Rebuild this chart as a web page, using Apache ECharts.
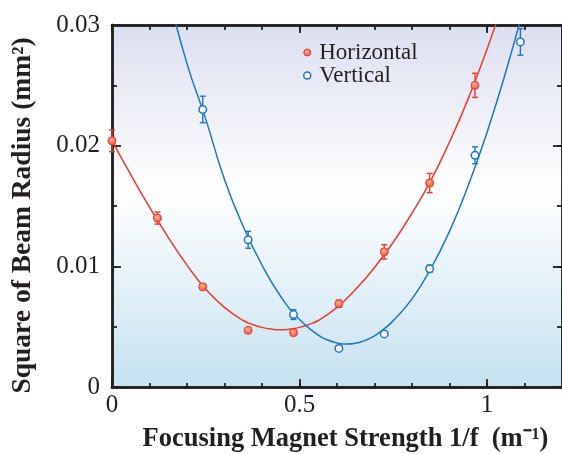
<!DOCTYPE html>
<html>
<head>
<meta charset="utf-8">
<script src="https://cdn.jsdelivr.net/npm/echarts@6/dist/echarts.min.js"></script>
<style>
html,body{margin:0;padding:0;background:#fff;}
#c{width:562px;height:454px;}
</style>
</head>
<body>
<div id="c"></div>
<script>
// ---- data ----
const xTicksMajor = [0, 0.5, 1];
const yTicksMajor = [0, 0.01, 0.02, 0.03];

const hX = [0, 0.121, 0.242, 0.363, 0.484, 0.605, 0.726, 0.847, 0.968];
const hY = [0.0204, 0.0140, 0.0083, 0.0047, 0.0045, 0.0069, 0.0112, 0.0169, 0.0250];
const hErr = [0.0009, 0.0005, 0.0002, 0.0001, 0.0001, 0.0003, 0.0006, 0.0008, 0.0010];

const vX = [0.242, 0.363, 0.484, 0.605, 0.726, 0.847, 0.968, 1.089];
const vY = [0.0230, 0.0122, 0.0060, 0.0032, 0.0044, 0.0098, 0.0192, 0.0286];
const vErr = [0.0011, 0.0007, 0.0004, 0.0001, 0.0001, 0.0003, 0.0007, 0.0011];

// fitted curves
const hFitX = [0, 0.05, 0.10, 0.15, 0.20, 0.25, 0.30, 0.35, 0.375, 0.40, 0.425, 0.45, 0.475, 0.50, 0.525, 0.55, 0.60, 0.65, 0.70, 0.75, 0.80, 0.85, 0.90, 0.95, 1.00, 1.05];
const hFitY = [0.0204, 0.0176, 0.0149, 0.0124, 0.0101, 0.0081, 0.0066, 0.00551, 0.00518, 0.00494, 0.0048, 0.00475, 0.0048, 0.00494, 0.00518, 0.00551, 0.0066, 0.0081, 0.0099, 0.0120, 0.0144, 0.0171, 0.0203, 0.0239, 0.0280, 0.0325];

const vFitX = [0.15, 0.20, 0.25, 0.30, 0.35, 0.40, 0.45, 0.50, 0.55, 0.575, 0.60, 0.625, 0.65, 0.675, 0.70, 0.725, 0.75, 0.80, 0.85, 0.90, 0.95, 1.00, 1.05, 1.10];
const vFitY = [0.0326, 0.0268, 0.0222, 0.0172, 0.0133, 0.0101, 0.0075, 0.0056, 0.0043, 0.00389, 0.00365, 0.00356, 0.00363, 0.00386, 0.00424, 0.0048, 0.0055, 0.0073, 0.0098, 0.0129, 0.0167, 0.0211, 0.0261, 0.0317];

const seriesNames = ['Horizontal', 'Vertical'];
const xTitle = 'Focusing Magnet Strength 1/f  (m\u207B\u00B9)';
const yTitle = 'Square of Beam Radius (mm\u00B2)';

// ---- styles ----
const RED = '#ec3b2e';
const BLUE = '#1f74c4';
const AX = '#231f20';
const SERIF = '"Liberation Serif", "Times New Roman", serif';

const zip = (a, b) => a.map((v, i) => [v, b[i]]);
const errData = (xs, ys, es) => xs.map((x, i) => [x, ys[i] - es[i], ys[i] + es[i]]);

function errRender(color) {
  return function (params, api) {
    const x = api.value(0);
    const lo = api.coord([x, api.value(1)]);
    const hi = api.coord([x, api.value(2)]);
    const w = 3;
    const st = { stroke: color, lineWidth: 1.4 };
    return {
      type: 'group',
      children: [
        { type: 'line', shape: { x1: lo[0], y1: lo[1], x2: hi[0], y2: hi[1] }, style: st },
        { type: 'line', shape: { x1: lo[0] - w, y1: lo[1], x2: lo[0] + w, y2: lo[1] }, style: st },
        { type: 'line', shape: { x1: hi[0] - w, y1: hi[1], x2: hi[0] + w, y2: hi[1] }, style: st }
      ]
    };
  };
}

const redFill = {
  type: 'radial', x: 0.45, y: 0.4, r: 0.6,
  colorStops: [{ offset: 0, color: '#fbb59a' }, { offset: 1, color: '#ef4a2c' }]
};

function xAx(pos, interval, len, labels) {
  return {
    type: 'value', position: pos, min: 0, max: 1.2, interval: interval,
    axisLine: { show: true, onZero: false, lineStyle: { color: AX, width: 2.5 } },
    axisTick: { show: true, inside: true, length: len, lineStyle: { color: AX, width: 1.8 } },
    axisLabel: labels ? {
      show: true, fontFamily: SERIF, fontSize: 25, color: AX, margin: 6,
      showMaxLabel: false,
      formatter: v => (xTicksMajor.some(t => Math.abs(t - v) < 1e-9) ? String(v) : '')
    } : { show: false },
    splitLine: { show: false }
  };
}
function yAx(pos, interval, len, labels) {
  return {
    type: 'value', position: pos, min: 0, max: 0.03, interval: interval,
    axisLine: { show: true, onZero: false, lineStyle: { color: AX, width: 2.5 } },
    axisTick: { show: true, inside: true, length: len, lineStyle: { color: AX, width: 1.8 } },
    axisLabel: labels ? {
      show: true, fontFamily: SERIF, fontSize: 25, color: AX, margin: 12,
      formatter: v => {
        const t = yTicksMajor.find(t => Math.abs(t - v) < 1e-9);
        return t === undefined ? '' : String(t);
      }
    } : { show: false },
    splitLine: { show: false }
  };
}

const chart = echarts.init(document.getElementById('c'), null, { renderer: 'canvas' });
chart.setOption({
  animation: false,
  backgroundColor: '#ffffff',
  grid: {
    left: 112, right: 0, top: 25, bottom: 67, show: true, borderWidth: 0,
    backgroundColor: {
      type: 'linear', x: 0, y: 0, x2: 0, y2: 1,
      colorStops: [
        { offset: 0, color: '#dcdff0' },
        { offset: 0.46, color: '#ffffff' },
        { offset: 1, color: '#c5e2f1' }
      ]
    }
  },
  xAxis: [
    xAx('bottom', 0.5, 8, true),
    xAx('bottom', 0.1, 4, false),
    xAx('top', 0.5, 8, false),
    xAx('top', 0.1, 5, false)
  ],
  yAxis: [
    yAx('left', 0.01, 9, true),
    yAx('left', 0.005, 5, false),
    yAx('right', 0.01, 9, false),
    yAx('right', 0.005, 5, false)
  ],
  legend: {
    orient: 'vertical', left: 298, top: 36, itemGap: 0,
    itemWidth: 14, itemHeight: 7,
    textStyle: { fontFamily: SERIF, fontSize: 23, color: AX, lineHeight: 22 },
    data: [
      { name: seriesNames[0], icon: 'circle', itemStyle: { color: redFill, borderColor: RED, borderWidth: 1 } },
      { name: seriesNames[1], icon: 'circle', itemStyle: { color: '#ffffff', borderColor: BLUE, borderWidth: 1.5 } }
    ]
  },
  graphic: [
    {
      type: 'text', x: 23, y: 215.5, rotation: Math.PI / 2,
      style: { text: yTitle, font: 'bold 27.5px ' + SERIF, fill: AX, align: 'center', verticalAlign: 'middle' }
    },
    {
      type: 'text', x: 345.5, y: 439.5,
      style: { text: xTitle, font: 'bold 26.5px ' + SERIF, fill: AX, align: 'center', verticalAlign: 'middle' }
    }
  ],
  series: [
    {
      name: 'fitH', type: 'line', data: zip(hFitX, hFitY), smooth: true, showSymbol: false,
      lineStyle: { color: RED, width: 1.5 }, z: 2, clip: true, silent: true
    },
    {
      name: 'fitV', type: 'line', data: zip(vFitX, vFitY), smooth: true, showSymbol: false,
      lineStyle: { color: BLUE, width: 1.5 }, z: 2, clip: true, silent: true
    },
    { name: 'errH', type: 'custom', data: errData(hX, hY, hErr), renderItem: errRender(RED), z: 3, clip: false },
    { name: 'errV', type: 'custom', data: errData(vX, vY, vErr), renderItem: errRender(BLUE), z: 3, clip: false },
    {
      name: seriesNames[0], type: 'scatter', data: zip(hX, hY), symbol: 'circle', symbolSize: 8,
      itemStyle: { color: redFill, borderColor: RED, borderWidth: 1, opacity: 1 }, z: 4
    },
    {
      name: seriesNames[1], type: 'scatter', data: zip(vX, vY), symbol: 'circle', symbolSize: 7.5,
      itemStyle: { color: '#ffffff', borderColor: BLUE, borderWidth: 1.5, opacity: 1 }, z: 4
    }
  ]
});
</script>
</body>
</html>
